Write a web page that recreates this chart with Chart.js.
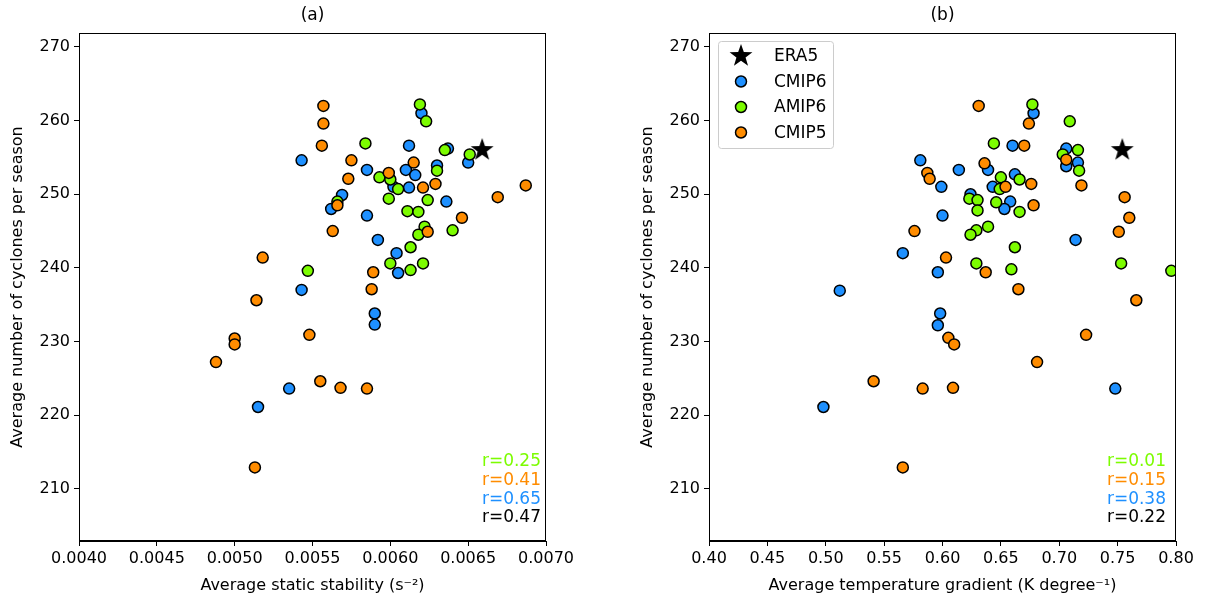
<!DOCTYPE html>
<html>
<head>
<meta charset="utf-8">
<script src="https://cdn.jsdelivr.net/npm/chart.js@4.4.0/dist/chart.umd.min.js"></script>
<style>
  body { margin: 0; background: #fff; }
  #wrap { position: relative; width: 1205px; height: 601px; }
  canvas { position: absolute; top: 0; }
</style>
</head>
<body>
<div id="wrap">
  <canvas id="chartA" width="600" height="601" style="left:0px"></canvas>
  <canvas id="chartB" width="575" height="601" style="left:630px"></canvas>
</div>
<script>
// ---- datos ----
const yTicks = [210, 220, 230, 240, 250, 260, 270];
const xTicksA = [0.0040, 0.0045, 0.0050, 0.0055, 0.0060, 0.0065, 0.0070];
const xTicksB = [0.40, 0.45, 0.50, 0.55, 0.60, 0.65, 0.70, 0.75, 0.80];

// panel (a): estabilidad estatica
const era5StabA = [0.00659];
const era5CycA = [256.0];

const cmip6StabA = [0.00543, 0.00585, 0.00569, 0.00562, 0.00585, 0.00592, 0.00543, 0.00605, 0.00590, 0.00590, 0.00535, 0.00515,
  0.00620, 0.00612, 0.00637, 0.00650, 0.00630, 0.00610, 0.00616, 0.00602, 0.00612, 0.00636, 0.00604];
const cmip6CycA = [254.6, 253.3, 249.9, 248.0, 247.1, 243.8, 237.0, 239.3, 233.8, 232.3, 223.6, 221.1,
  261.0, 256.6, 256.2, 254.3, 253.9, 253.3, 252.6, 251.0, 250.9, 249.0, 242.0];

const amip6StabA = [0.00584, 0.00593, 0.00566, 0.00547, 0.00619, 0.00623, 0.00635, 0.00651, 0.00630, 0.00600, 0.00605,
  0.00599, 0.00624, 0.00611, 0.00618, 0.00622, 0.00618, 0.00640, 0.00613, 0.00600, 0.00621, 0.00613];
const amip6CycA = [256.9, 252.3, 249.0, 239.6, 262.2, 259.9, 256.0, 255.4, 253.2, 252.0, 250.7,
  249.4, 249.2, 247.7, 247.6, 245.6, 244.5, 245.1, 242.8, 240.6, 240.6, 239.7];

const cmip5StabA = [0.00557, 0.00557, 0.00556, 0.00575, 0.00573, 0.00566, 0.00563, 0.00518, 0.00589, 0.00588, 0.00514,
  0.00548, 0.00500, 0.00500, 0.00488, 0.00555, 0.00568, 0.00585, 0.00513, 0.00615, 0.00599, 0.00621, 0.00629,
  0.00687, 0.00669, 0.00646, 0.00624];
const cmip5CycA = [262.0, 259.6, 256.6, 254.6, 252.1, 248.5, 245.0, 241.4, 239.4, 237.1, 235.6,
  230.9, 230.4, 229.6, 227.2, 224.6, 223.7, 223.6, 212.9, 254.3, 252.9, 250.9, 251.4,
  251.2, 249.6, 246.8, 244.9];

// panel (b): gradiente de temperatura
const era5GradB = [0.754];
const era5CycB = [256.0];

const cmip6GradB = [0.678, 0.660, 0.581, 0.639, 0.614, 0.662, 0.599, 0.643, 0.624, 0.658, 0.653, 0.600,
  0.714, 0.566, 0.596, 0.512, 0.598, 0.596, 0.498, 0.706, 0.716, 0.706, 0.748];
const cmip6CycB = [261.0, 256.6, 254.6, 253.3, 253.3, 252.7, 251.0, 251.0, 250.0, 249.0, 248.0, 247.1,
  243.8, 242.0, 239.4, 236.9, 233.8, 232.2, 221.1, 256.2, 254.3, 253.8, 223.6];

const amip6GradB = [0.677, 0.709, 0.644, 0.650, 0.666, 0.649, 0.623, 0.630, 0.646, 0.666, 0.630,
  0.639, 0.629, 0.624, 0.662, 0.629, 0.659, 0.716, 0.703, 0.717, 0.753, 0.796];
const amip6CycB = [262.2, 259.9, 256.9, 252.3, 252.0, 250.7, 249.4, 249.2, 248.9, 247.6, 247.8,
  245.6, 245.1, 244.5, 242.8, 240.6, 239.8, 256.0, 255.4, 253.2, 240.6, 239.6];

const cmip5GradB = [0.631, 0.674, 0.670, 0.636, 0.587, 0.589, 0.676, 0.654, 0.678, 0.576, 0.603,
  0.637, 0.665, 0.605, 0.610, 0.541, 0.583, 0.609, 0.566, 0.706, 0.719, 0.756, 0.760,
  0.751, 0.766, 0.723, 0.681];
const cmip5CycB = [262.0, 259.6, 256.6, 254.2, 252.9, 252.1, 251.4, 251.0, 248.5, 245.0, 241.4,
  239.4, 237.1, 230.5, 229.6, 224.6, 223.6, 223.7, 212.9, 254.7, 251.2, 249.6, 246.8,
  244.9, 235.6, 230.9, 227.2];

const rLabelsA = ['r=0.25', 'r=0.41', 'r=0.65', 'r=0.47'];
const rLabelsB = ['r=0.01', 'r=0.15', 'r=0.38', 'r=0.22'];

// ---- estilos ----
const FONT = 'DejaVu Sans';
const BLUE = '#1e90ff', GREEN = '#7cfc00', ORANGE = '#ff8c00';
const rColors = [GREEN, ORANGE, BLUE, '#000'];

function makeStar(r) {
  const c = document.createElement('canvas');
  c.width = c.height = 2 * r + 2;
  const g = c.getContext('2d');
  g.beginPath();
  for (let i = 0; i < 10; i++) {
    const rad = i % 2 ? r * 0.4 : r;
    const a = -Math.PI / 2 + i * Math.PI / 5;
    g.lineTo(r + 1 + rad * Math.cos(a), r + 1 + rad * Math.sin(a));
  }
  g.closePath();
  g.fillStyle = '#000';
  g.fill();
  return c;
}
const star = makeStar(12);

const pts = (xs, ys) => xs.map((x, i) => ({ x: x, y: ys[i] }));

// plugin para marco, titulo, textos r y leyenda
const decor = {
  id: 'decor',
  afterDraw(chart, args, opts) {
    const ctx = chart.ctx;
    const a = chart.chartArea;
    ctx.save();
    ctx.strokeStyle = '#000';
    ctx.lineWidth = 1;
    ctx.strokeRect(a.left + 0.5, a.top + 0.5, a.right - a.left - 1, a.bottom - a.top - 1);

    ctx.fillStyle = '#000';
    ctx.font = '17px "' + FONT + '"';
    ctx.textAlign = 'center';
    ctx.textBaseline = 'middle';
    ctx.fillText(opts.title, (a.left + a.right) / 2, 16);

    ctx.font = '17px "' + FONT + '"';
    ctx.textAlign = 'right';
    opts.rLabels.forEach((t, i) => {
      ctx.fillStyle = rColors[i];
      ctx.fillText(t, a.right - opts.rGap, a.bottom - 79 + i * 18.6);
    });

    if (opts.legend) {
      const x0 = a.left + 9, y0 = a.top + 8;
      ctx.beginPath();
      ctx.roundRect(x0 + 0.5, y0 + 0.5, 115, 107, 3);
      ctx.fillStyle = 'rgba(255,255,255,0.8)';
      ctx.fill();
      ctx.strokeStyle = '#cccccc';
      ctx.stroke();
      chart.data.datasets.slice().sort((p, q) => p.legendIdx - q.legendIdx).forEach((ds, i) => {
        const cy = y0 + 15 + i * 25.5;
        const cx = x0 + 23;
        if (ds.pointStyle === star) {
          ctx.drawImage(star, cx - star.width / 2, cy - star.height / 2);
        } else {
          ctx.beginPath();
          ctx.arc(cx, cy, 5.5, 0, Math.PI * 2);
          ctx.fillStyle = ds.backgroundColor;
          ctx.fill();
          ctx.lineWidth = 1.5;
          ctx.strokeStyle = '#000';
          ctx.stroke();
        }
        ctx.fillStyle = '#000';
        ctx.font = '17px "' + FONT + '"';
        ctx.textAlign = 'left';
        ctx.fillText(ds.label, x0 + 56, cy + 1);
      });
    }
    ctx.restore();
  }
};

function makePanel(id, o) {
  const dot = (label, color, xs, ys, order, legendIdx) => ({
    label: label, data: pts(xs, ys), backgroundColor: color, borderColor: '#000',
    pointRadius: 5.5, pointBorderWidth: 1.5, pointStyle: 'circle', order: order, legendIdx: legendIdx
  });
  return new Chart(document.getElementById(id), {
    type: 'scatter',
    data: {
      datasets: [
        { label: 'ERA5', data: pts(o.era5X, o.era5Y), pointStyle: star, backgroundColor: '#000',
          borderColor: '#000', order: 0, legendIdx: 0 },
        dot('CMIP5', ORANGE, o.c5X, o.c5Y, 1, 3),
        dot('AMIP6', GREEN, o.a6X, o.a6Y, 2, 2),
        dot('CMIP6', BLUE, o.c6X, o.c6Y, 3, 1)
      ]
    },
    options: {
      responsive: false,
      devicePixelRatio: 1,
      animation: false,
      events: [],
      layout: { padding: { top: 33, right: o.padRight, left: 0, bottom: 0 } },
      plugins: {
        legend: { display: false },
        tooltip: { enabled: false },
        decor: { title: o.title, rLabels: o.rLabels, legend: o.legend, rGap: o.rGap }
      },
      scales: {
        x: {
          type: 'linear', min: o.xTicks[0], max: o.xTicks[o.xTicks.length - 1],
          afterBuildTicks: s => { s.ticks = o.xTicks.map(v => ({ value: v })); },
          afterFit: s => { s.height = 60; },
          ticks: { color: '#000', font: { family: FONT, size: 16 }, padding: 3, maxRotation: 0, autoSkip: false,
            callback: v => v.toFixed(o.dec) },
          grid: { drawOnChartArea: false, drawTicks: true, tickLength: 5, color: '#000' },
          border: { display: true, color: '#000', width: 1 },
          title: { display: true, text: o.xTitle, color: '#000', font: { family: FONT, size: 16 }, padding: { top: 0, bottom: 5.5 } }
        },
        y: {
          type: 'linear', min: 202.9, max: 271.9,
          afterBuildTicks: s => { s.ticks = yTicks.map(v => ({ value: v })); },
          afterFit: s => { s.width = 79; },
          ticks: { color: '#000', font: { family: FONT, size: 16 }, padding: 4, autoSkip: false },
          grid: { drawOnChartArea: false, drawTicks: true, tickLength: 5, color: '#000' },
          border: { display: true, color: '#000', width: 1 },
          title: { display: true, text: 'Average number of cyclones per season', color: '#000',
            font: { family: FONT, size: 16 }, padding: { top: 8.5, bottom: 4 } }
        }
      }
    },
    plugins: [decor]
  });
}

makePanel('chartA', {
  title: '(a)', rLabels: rLabelsA, legend: false, padRight: 54, rGap: 5,
  xTicks: xTicksA, dec: 4, xTitle: 'Average static stability (s\u207B\u00B2)',
  era5X: era5StabA, era5Y: era5CycA, c6X: cmip6StabA, c6Y: cmip6CycA,
  a6X: amip6StabA, a6Y: amip6CycA, c5X: cmip5StabA, c5Y: cmip5CycA
});

makePanel('chartB', {
  title: '(b)', rLabels: rLabelsB, legend: true, padRight: 29, rGap: 10,
  xTicks: xTicksB, dec: 2, xTitle: 'Average temperature gradient (K degree\u207B\u00B9)',
  era5X: era5GradB, era5Y: era5CycB, c6X: cmip6GradB, c6Y: cmip6CycB,
  a6X: amip6GradB, a6Y: amip6CycB, c5X: cmip5GradB, c5Y: cmip5CycB
});
</script>
</body>
</html>
